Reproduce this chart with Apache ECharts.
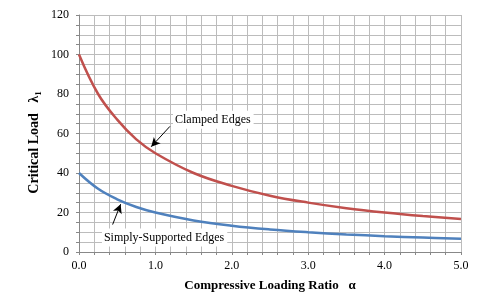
<!DOCTYPE html>
<html><head><meta charset="utf-8">
<script src="https://cdn.jsdelivr.net/npm/echarts@6/dist/echarts.min.js"></script>
<style>html,body{margin:0;padding:0;background:#fff}#c{width:491px;height:305px}</style>
</head><body><div id="c"></div>
<script>
var alpha = [0, 0.25, 0.5, 0.75, 1.0, 1.5, 2.0, 2.5, 3.0, 3.5, 4.0, 4.5, 5.0];
var clamped = [100, 80, 67, 57, 50, 40, 33.5, 28.5, 25, 22.2, 20, 18.2, 16.7];
var simply = [40, 32, 26.7, 22.8, 20, 16, 13.3, 11.4, 10, 8.9, 8, 7.3, 6.7];
var xTickLabels = ['0.0','1.0','2.0','3.0','4.0','5.0'];
var yTickLabels = ['0','20','40','60','80','100','120'];

var serif = '"Liberation Serif", "DejaVu Serif", serif';
function pairs(ys){ return alpha.map(function(a,i){return [a, ys[i]];}); }
function isInt(v){ return Math.abs(v - Math.round(v)) < 1e-6; }

var chart = echarts.init(document.getElementById('c'));
chart.setOption({
  animation: false,
  grid: {left: 79, right: 30, top: 15, bottom: 53},
  xAxis: {
    type: 'value', min: 0, max: 5, interval: 0.2,
    name: 'Compressive Loading Ratio   α', nameLocation: 'middle', nameGap: 27,
    nameTextStyle: {fontFamily: serif, fontWeight: 'bold', fontSize: 13, color: '#000'},
    axisLine: {lineStyle: {color: '#888'}},
    axisTick: {show: true, length: 3, lineStyle: {color: '#888'}},
    axisLabel: {fontFamily: serif, fontSize: 12, color: '#000', margin: 8,
      formatter: function(v){ if(!isInt(v)) return ''; return xTickLabels[Math.round(v)]; }},
    splitLine: {show: true, lineStyle: {color: '#bcbcbc', width: 1}}
  },
  yAxis: {
    type: 'value', min: 0, max: 120, interval: 5,
    name: '{a|Critical Load   λ}{s|1}', nameLocation: 'middle', nameGap: 36,
    nameMoveOverlap: false,
    nameTextStyle: {padding: [0, 0, 0, -18], rich: {
      a: {fontFamily: serif, fontWeight: 'bold', fontSize: 14, color: '#000'},
      s: {fontFamily: serif, fontWeight: 'bold', fontSize: 9, color: '#000', padding: [8,0,0,0]}
    }},
    axisLine: {show: true, lineStyle: {color: '#888'}},
    axisTick: {show: true, length: 3, lineStyle: {color: '#888'}},
    axisLabel: {fontFamily: serif, fontSize: 12, color: '#000', margin: 10,
      formatter: function(v){ if(v % 20 !== 0) return ''; return yTickLabels[v/20]; }},
    splitLine: {show: true, lineStyle: {color: '#bcbcbc', width: 1}}
  },
  series: [
    {type: 'line', data: pairs(clamped), smooth: 0.4, symbol: 'none',
     lineStyle: {color: '#c0504d', width: 2.5},
     markLine: {silent: true, symbol: ['none','arrow'], symbolSize: [7,9],
       lineStyle: {color: '#000', width: 1, type: 'solid'}, label: {show: false},
       data: [[{coord: [1.19, 63.6]}, {coord: [0.945, 53.3]}]]}},
    {type: 'line', data: pairs(simply), smooth: 0.4, symbol: 'none',
     lineStyle: {color: '#4f81bd', width: 2.5},
     markLine: {silent: true, symbol: ['none','arrow'], symbolSize: [7,9],
       lineStyle: {color: '#000', width: 1, type: 'solid'}, label: {show: false},
       data: [[{coord: [0.44, 13.9]}, {coord: [0.545, 24.2]}]]}}
  ]
});

var p1 = chart.convertToPixel({gridIndex: 0}, [1.23, 67]);
var p2 = chart.convertToPixel({gridIndex: 0}, [0.30, 7.3]);
chart.setOption({graphic: [
  {type: 'text', x: p1[0], y: p1[1], style: {text: 'Clamped Edges', font: '12px ' + serif,
     fill: '#000', verticalAlign: 'middle', align: 'left', backgroundColor: '#fff', padding: [3,3,3,2]}},
  {type: 'text', x: p2[0], y: p2[1], style: {text: 'Simply-Supported Edges', font: '12px ' + serif,
     fill: '#000', verticalAlign: 'middle', align: 'left', backgroundColor: '#fff', padding: [3,3,3,2]}}
]});
</script></body></html>
